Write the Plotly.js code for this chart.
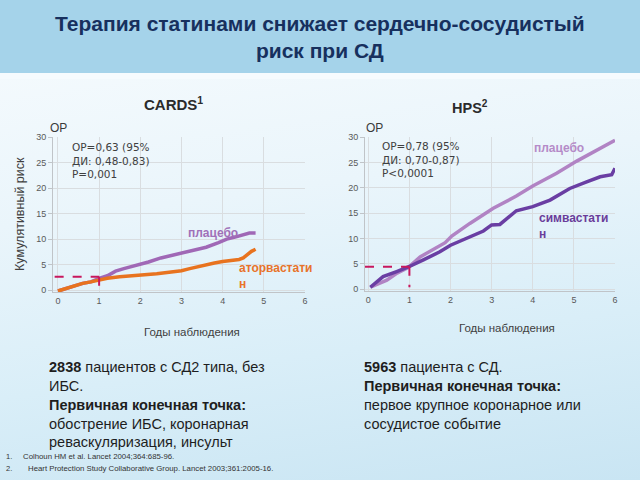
<!DOCTYPE html>
<html>
<head>
<meta charset="utf-8">
<script src="https://cdn.plot.ly/plotly-3.0.1.min.js"></script>
<style>
html,body{margin:0;padding:0;}
body{width:640px;height:480px;background:linear-gradient(172deg,#f8fcfe 0%,#eaf5fb 40%,#d9eef8 70%,#c9e5f3 100%);}
#chart{width:640px;height:480px;}
</style>
</head>
<body>
<div id="chart"></div>
<script>
// CARDS (left panel)
const cardsYears = [0, 0.2, 0.45, 0.6, 0.8, 1.0, 1.2, 1.4, 1.6, 1.9, 2.2, 2.5, 2.8, 3.0, 3.3, 3.6, 3.9, 4.1, 4.3, 4.5, 4.65, 4.8];
const cardsPlacebo = [-0.2, 0.3, 0.9, 1.3, 1.6, 2.3, 2.8, 3.7, 4.2, 4.8, 5.5, 6.3, 6.9, 7.2, 7.8, 8.4, 9.3, 10.0, 10.4, 10.9, 11.2, 11.2];
const cardsAtorvaYears = [0, 0.2, 0.45, 0.6, 0.8, 1.0, 1.2, 1.5, 1.8, 2.1, 2.4, 2.7, 3.0, 3.2, 3.5, 3.8, 4.0, 4.2, 4.4, 4.5, 4.6, 4.7, 4.8];
const cardsAtorva = [-0.2, 0.3, 0.9, 1.3, 1.6, 2.0, 2.3, 2.6, 2.8, 2.9, 3.2, 3.5, 3.8, 4.2, 4.8, 5.3, 5.6, 5.8, 6.0, 6.3, 7.0, 7.6, 8.0];
// HPS (right panel)
const hpsPlaceboYears = [0.05, 0.45, 0.7, 0.97, 1.26, 1.58, 1.87, 2.03, 2.47, 3.04, 3.6, 4.0, 4.58, 5.07, 5.56, 6.0];
const hpsPlacebo = [0.4, 1.8, 3.2, 4.3, 6.4, 7.8, 9.2, 10.5, 13.0, 16.0, 18.4, 20.4, 22.9, 25.3, 27.4, 29.4];
const hpsSimvaYears = [0.05, 0.36, 0.69, 1.0, 1.34, 1.74, 2.0, 2.31, 2.8, 3.0, 3.2, 3.6, 4.0, 4.42, 4.9, 5.31, 5.64, 5.92, 6.0];
const hpsSimva = [0.4, 2.5, 3.5, 4.5, 5.8, 7.4, 8.7, 9.8, 11.5, 12.7, 12.8, 15.5, 16.3, 17.6, 19.9, 21.2, 22.2, 22.6, 23.9];
const yTicks = [0, 5, 10, 15, 20, 25, 30];
const xTicks = [0, 1, 2, 3, 4, 5, 6];
// reference markers at year 1
const cardsYear1Risk = 2.6;
const hpsYear1Risk = 4.45;

const W = 640, H = 480;
const px = v => v / W;
const py = v => 1 - v / H;

const chartFont = 'Liberation Sans, Arial, sans-serif';
const statFont = 'DejaVu Sans, Liberation Sans, sans-serif';
const tickFont = {family: chartFont, size: 9, color: '#595959'};

const traces = [
  {x: cardsYears, y: cardsPlacebo, xaxis: 'x', yaxis: 'y', mode: 'lines', line: {color: '#a068b6', width: 3.5}, hoverinfo: 'skip'},
  {x: cardsAtorvaYears, y: cardsAtorva, xaxis: 'x', yaxis: 'y', mode: 'lines', line: {color: '#e8731f', width: 3.5}, hoverinfo: 'skip'},
  {x: hpsPlaceboYears, y: hpsPlacebo, xaxis: 'x2', yaxis: 'y2', mode: 'lines', line: {color: '#b183c4', width: 3.5}, hoverinfo: 'skip'},
  {x: hpsSimvaYears, y: hpsSimva, xaxis: 'x2', yaxis: 'y2', mode: 'lines', line: {color: '#6a3ea3', width: 3.5}, hoverinfo: 'skip'}
];

function xAxis(domain, range) {
  return {domain: domain, range: range, tickvals: xTicks, ticktext: xTicks.map(String),
    showgrid: true, gridcolor: '#d9dde0', gridwidth: 1, zeroline: false,
    showline: true, linecolor: '#c0c4c8', linewidth: 1, ticks: '', tickfont: tickFont, fixedrange: true};
}
function yAxis(domain, range, anchor) {
  return {domain: domain, range: range, tickvals: yTicks, ticktext: yTicks.map(String), anchor: anchor,
    showgrid: true, gridcolor: '#d9dde0', gridwidth: 1, zeroline: false,
    showline: true, linecolor: '#c0c4c8', linewidth: 1, ticks: 'outside', ticklen: 4, tickcolor: '#c0c4c8',
    tickfont: tickFont, fixedrange: true};
}

const dashStyle = {color: '#c8175d', width: 2, dash: 'dash'};

const layout = {
  width: W, height: H,
  margin: {l: 0, r: 0, t: 0, b: 0},
  paper_bgcolor: 'rgba(0,0,0,0)',
  plot_bgcolor: 'rgba(0,0,0,0)',
  showlegend: false,
  xaxis: Object.assign(xAxis([53 / W, 305 / W], [-0.12, 6]), {anchor: 'y'}),
  yaxis: yAxis([py(292.3), py(137.3)], [-0.45, 30], 'x'),
  xaxis2: Object.assign(xAxis([365 / W, 615 / W], [-0.08, 6]), {anchor: 'y2'}),
  yaxis2: yAxis([py(290.7), py(137.3)], [-0.28, 30], 'x2'),
  shapes: [
    {type: 'rect', xref: 'paper', yref: 'paper', x0: 0, x1: 1, y0: py(73), y1: 1, fillcolor: '#a5d3ea', line: {width: 0}, layer: 'below'},
    {type: 'rect', xref: 'paper', yref: 'paper', x0: 0, x1: 1, y0: py(79), y1: py(73), fillcolor: '#f6fbfe', line: {width: 0}, layer: 'below'},
    {type: 'line', xref: 'x', yref: 'y', x0: -0.08, x1: 1, y0: cardsYear1Risk, y1: cardsYear1Risk, line: dashStyle},
    {type: 'line', xref: 'x', yref: 'y', x0: 1, x1: 1, y0: cardsYear1Risk, y1: -0.7, line: dashStyle},
    {type: 'line', xref: 'x2', yref: 'y2', x0: -0.08, x1: 1, y0: hpsYear1Risk, y1: hpsYear1Risk, line: dashStyle},
    {type: 'line', xref: 'x2', yref: 'y2', x0: 1, x1: 1, y0: hpsYear1Risk, y1: 0.4, line: dashStyle}
  ],
  annotations: [
    {text: '<b>Терапия статинами снижает сердечно-сосудистый<br>риск при СД</b>', xref: 'paper', yref: 'paper', x: 0.5, y: py(37), xanchor: 'center', yanchor: 'middle', showarrow: false, align: 'center',
      font: {family: chartFont, size: 21, color: '#17305e'}},
    {text: '<b>CARDS<sup>1</sup></b>', xref: 'paper', yref: 'paper', x: px(173), y: py(103), xanchor: 'center', yanchor: 'middle', showarrow: false,
      font: {family: chartFont, size: 15, color: '#2b2b2b'}},
    {text: '<b>HPS<sup>2</sup></b>', xref: 'paper', yref: 'paper', x: px(470), y: py(107), xanchor: 'center', yanchor: 'middle', showarrow: false,
      font: {family: chartFont, size: 14.5, color: '#2b2b2b'}},
    {text: 'ОР', xref: 'paper', yref: 'paper', x: px(58), y: py(128), xanchor: 'center', yanchor: 'middle', showarrow: false,
      font: {family: chartFont, size: 12, color: '#3a3a3a'}},
    {text: 'ОР', xref: 'paper', yref: 'paper', x: px(374), y: py(128), xanchor: 'center', yanchor: 'middle', showarrow: false,
      font: {family: chartFont, size: 12, color: '#3a3a3a'}},
    {text: 'ОР=0,63 (95%<br>ДИ: 0,48-0,83)<br>Р=0,001', xref: 'paper', yref: 'paper', x: px(70), y: py(139), xanchor: 'left', yanchor: 'top', align: 'left', showarrow: false,
      font: {family: statFont, size: 10.5, color: '#404040'}},
    {text: 'ОР=0,78 (95%<br>ДИ: 0,70-0,87)<br>Р<0,0001', xref: 'paper', yref: 'paper', x: px(380), y: py(138), xanchor: 'left', yanchor: 'top', align: 'left', showarrow: false,
      font: {family: statFont, size: 10.5, color: '#404040'}},
    {text: 'Кумулятивный риск', xref: 'paper', yref: 'paper', x: px(20), y: py(214), xanchor: 'center', yanchor: 'middle', textangle: -90, showarrow: false,
      font: {family: chartFont, size: 12.5, color: '#404040'}},
    {text: 'Годы наблюдения', xref: 'paper', yref: 'paper', x: px(192), y: py(332), xanchor: 'center', yanchor: 'middle', showarrow: false,
      font: {family: chartFont, size: 11.5, color: '#404040'}},
    {text: 'Годы наблюдения', xref: 'paper', yref: 'paper', x: px(507), y: py(328), xanchor: 'center', yanchor: 'middle', showarrow: false,
      font: {family: chartFont, size: 11.5, color: '#404040'}},
    {text: '<b>плацебо</b>', xref: 'paper', yref: 'paper', x: px(186), y: py(233), xanchor: 'left', yanchor: 'middle', showarrow: false,
      font: {family: chartFont, size: 12, color: '#a070b8'}},
    {text: '<b>аторвастати<br>н</b>', xref: 'paper', yref: 'paper', x: px(237), y: py(259), xanchor: 'left', yanchor: 'top', align: 'left', showarrow: false,
      font: {family: chartFont, size: 12, color: '#e8732a'}},
    {text: '<b>плацебо</b>', xref: 'paper', yref: 'paper', x: px(532), y: py(148), xanchor: 'left', yanchor: 'middle', showarrow: false,
      font: {family: chartFont, size: 12, color: '#b58bc8'}},
    {text: '<b>симвастати<br>н</b>', xref: 'paper', yref: 'paper', x: px(537), y: py(209), xanchor: 'left', yanchor: 'top', align: 'left', showarrow: false,
      font: {family: chartFont, size: 12, color: '#6a3d9a'}},
    {text: '<b>2838</b> пациентов с СД2 типа, без<br>ИБС.<br><b>Первичная конечная точка:</b><br>обострение ИБС, коронарная<br>реваскуляризация, инсульт', xref: 'paper', yref: 'paper', x: px(47), y: py(357), xanchor: 'left', yanchor: 'top', align: 'left', showarrow: false,
      font: {family: chartFont, size: 14.5, color: '#1e1e1e'}},
    {text: '<b>5963</b> пациента с СД.<br><b>Первичная конечная точка:</b><br>первое крупное коронарное или<br>сосудистое событие', xref: 'paper', yref: 'paper', x: px(362), y: py(357), xanchor: 'left', yanchor: 'top', align: 'left', showarrow: false,
      font: {family: chartFont, size: 14.5, color: '#1e1e1e'}},
    {text: '1.', xref: 'paper', yref: 'paper', x: px(4), y: py(456), xanchor: 'left', yanchor: 'middle', showarrow: false, font: {family: chartFont, size: 7.5, color: '#333'}},
    {text: 'Colhoun HM et al. Lancet 2004;364:685-96.', xref: 'paper', yref: 'paper', x: px(21), y: py(456), xanchor: 'left', yanchor: 'middle', showarrow: false, font: {family: chartFont, size: 7.8, color: '#333'}},
    {text: '2.', xref: 'paper', yref: 'paper', x: px(4), y: py(468), xanchor: 'left', yanchor: 'middle', showarrow: false, font: {family: chartFont, size: 7.5, color: '#333'}},
    {text: 'Heart Protection Study Collaborative Group. Lancet 2003;361:2005-16.', xref: 'paper', yref: 'paper', x: px(26), y: py(468), xanchor: 'left', yanchor: 'middle', showarrow: false, font: {family: chartFont, size: 7.8, color: '#333'}}
  ]
};

Plotly.newPlot('chart', traces, layout, {staticPlot: true, displayModeBar: false});
</script>
</body>
</html>
